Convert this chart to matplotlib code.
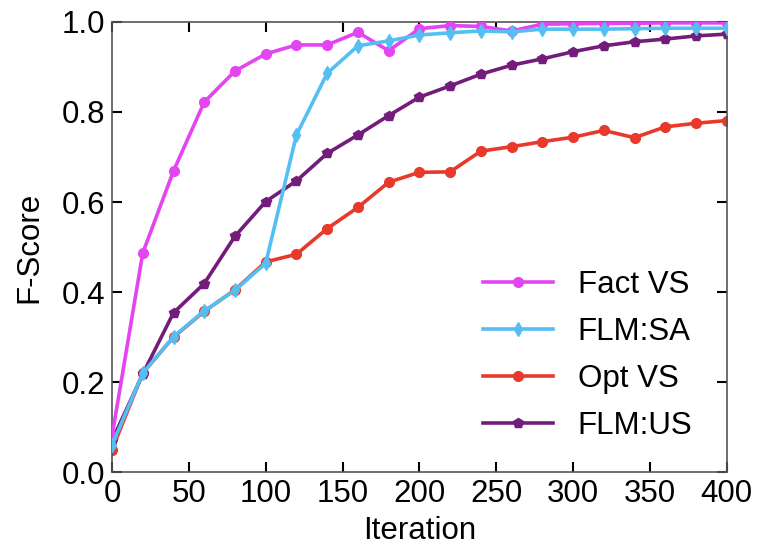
import numpy as np
import matplotlib
matplotlib.use("Agg")
import matplotlib.pyplot as plt

plt.rcParams['font.family'] = ['Liberation Sans', 'DejaVu Sans']

iterations = np.arange(0, 401, 20)

fact_vs = [0.08, 0.487, 0.669, 0.822, 0.891, 0.929, 0.949, 0.949, 0.977, 0.936,
           0.985, 0.992, 0.990, 0.980, 0.995, 0.996, 0.997, 0.997, 0.998, 0.998, 0.998]
flm_sa = [0.06, 0.22, 0.301, 0.358, 0.404, 0.464, 0.749, 0.886, 0.947, 0.958,
          0.971, 0.976, 0.980, 0.978, 0.984, 0.984, 0.984, 0.985, 0.986, 0.986, 0.986]
opt_vs = [0.05, 0.22, 0.30, 0.357, 0.405, 0.467, 0.484, 0.541, 0.588, 0.644,
          0.666, 0.667, 0.713, 0.723, 0.734, 0.744, 0.759, 0.743, 0.767, 0.775, 0.781]
flm_us = [0.07, 0.218, 0.354, 0.419, 0.524, 0.601, 0.647, 0.708, 0.749, 0.792,
          0.833, 0.858, 0.884, 0.904, 0.918, 0.934, 0.947, 0.956, 0.962, 0.969, 0.973]

# (label, values, colour, marker, zorder)
series = [
    ("Fact VS", fact_vs, "#e444f2", "o", 3),
    ("FLM:SA", flm_sa, "#55bff2", "d", 4),
    ("Opt VS", opt_vs, "#e8392a", "o", 2),
    ("FLM:US", flm_us, "#731c7c", "p", 2),
]

fs = 22.5

fig = plt.figure(figsize=(7.57, 5.49), dpi=100)
ax = fig.add_axes([0.148, 0.14, 0.812, 0.82])

for label, vals, color, marker, z in series:
    ax.plot(iterations, vals, color=color, marker=marker, lw=2.6,
            markersize=7, label=label, zorder=z)

ax.set_xlim(0, 400)
ax.set_ylim(0, 1.0)
ax.set_xticks(np.arange(0, 401, 50))
ax.set_yticks(np.arange(0, 1.01, 0.2))
ax.set_yticklabels([f"{v:.1f}" for v in np.arange(0, 1.01, 0.2)])
ax.tick_params(direction='in', length=7, width=1.5, top=True, right=True,
               labelsize=fs, pad=5, colors='black')
for sp in ax.spines.values():
    sp.set_color('#555555')
    sp.set_linewidth(1.2)

ax.set_xlabel("Iteration", fontsize=fs, labelpad=5)
ax.set_ylabel("F-Score", fontsize=fs, labelpad=12)

ax.legend(loc='lower right', bbox_to_anchor=(0.99, 0.006), frameon=False,
          fontsize=fs, handlelength=2.25, handletextpad=0.8, labelspacing=0.55)

fig.savefig("out.png", dpi=100)
